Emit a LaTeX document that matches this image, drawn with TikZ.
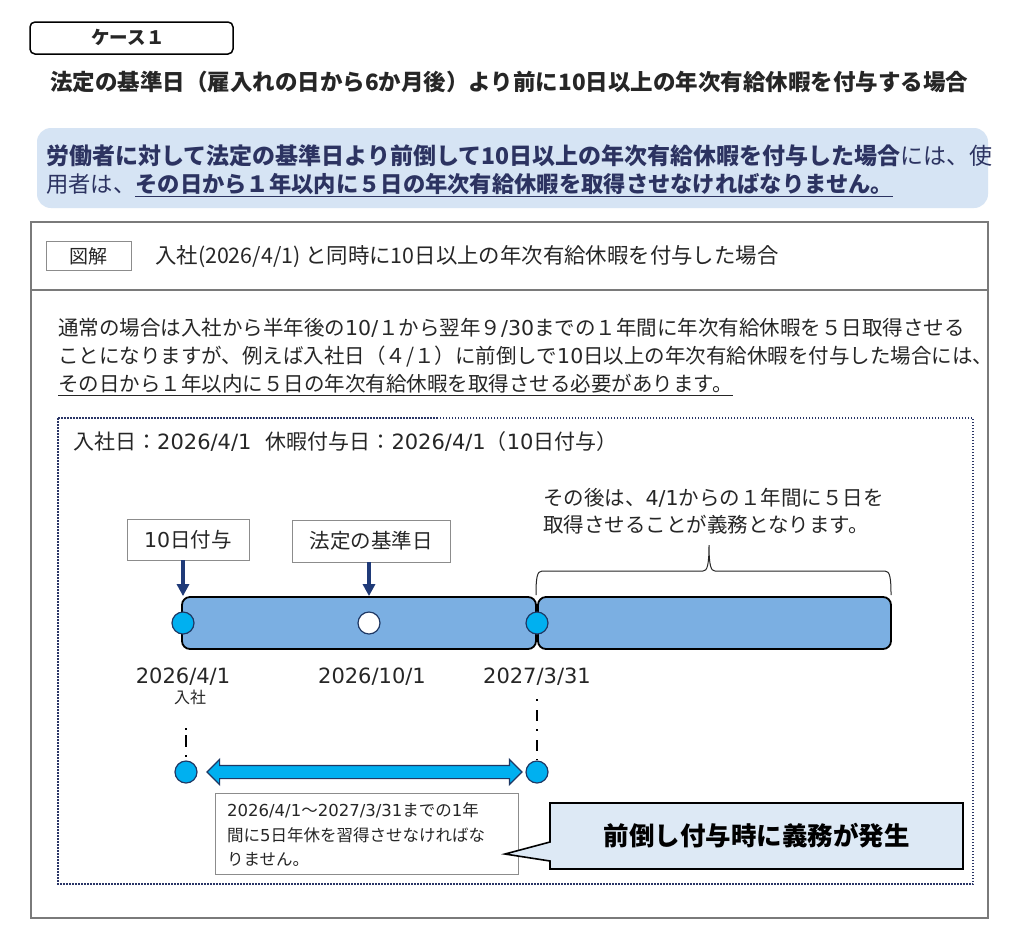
\documentclass[tikz,border=0pt]{standalone}
\usepackage{fontspec}
\setmainfont{Noto Sans CJK JP}
\newfontfamily\lat{DejaVu Sans}
\usetikzlibrary{shapes.arrows,arrows.meta}
\definecolor{navy}{HTML}{2C3361}
\definecolor{textgray}{HTML}{262626}
\definecolor{boxgray}{HTML}{8C8C8C}
\definecolor{framegray}{HTML}{7A7A7A}
\definecolor{lightblue}{HTML}{D6E4F4}
\definecolor{barblue}{HTML}{7BAFE2}
\definecolor{cyanfill}{HTML}{00B0F0}
\definecolor{circnavy}{HTML}{1F3864}
\definecolor{arrownavy}{HTML}{1F3A78}
\definecolor{dotnavy}{HTML}{2A3566}
\definecolor{calloutfill}{HTML}{DDE9F5}
\newcommand\fsz[1]{\fontsize{#1}{#1}\selectfont}
\newcommand\myul[2]{\setbox0\hbox{#2}\rlap{\textcolor{#1}{\rule[-5pt]{\wd0}{1.3pt}}}\box0}
\begin{document}
\begin{tikzpicture}[x=1pt,y=-1pt,
  txt/.style={inner sep=0pt, anchor=base west, text=textgray},
  lbl/.style={draw=boxgray, fill=white, line width=0.9pt, inner sep=0pt, text=textgray},
  bar/.style={draw=black, line width=1.8pt, fill=barblue, rounded corners=8pt, inner sep=0pt},
  dotc/.style={circle, draw=circnavy, line width=1.2pt, minimum size=22pt, inner sep=0pt},
  varrow/.style={-{Triangle[length=12pt,width=12pt]}, line width=3.2pt, draw=arrownavy},
  ddashA/.style={line width=2.5pt, draw=black, dash pattern=on 2pt off 5pt on 12pt off 8pt},
  ddashB/.style={line width=2.5pt, draw=black, dash pattern=on 2pt off 9pt on 11pt off 8pt},
]
\useasboundingbox (0,0) rectangle (1024,946);
\fill[white] (0,0) rectangle (1024,946);

% case label
\node[draw=black, line width=1.5pt, rounded corners=5pt, minimum width=203pt, minimum height=32pt, inner sep=0pt] (case) at (131.5,38) {};
\node[inner sep=0pt, anchor=base, text=textgray] (casetxt) at (128,44.5) {\fsz{18.5}\bfseries ケース１};

% title
\node[txt] (title) at (50,90.5) {\fsz{22.5}\bfseries 法定の基準日（雇入れの日から6か月後）より前に10日以上の年次有給休暇を付与する場合};

% blue summary box
\node[fill=lightblue, rounded corners=14pt, minimum width=951pt, minimum height=80pt, inner sep=0pt] (summary) at (512.5,168) {};
\node[txt, text=navy] (sum1) at (46,164) {\fsz{23}{\bfseries 労働者に対して法定の基準日より前倒して10日以上の年次有給休暇を付与した場合}には、使};
\node[txt, text=navy] (sum2) at (46,192) {\fsz{22.3}用者は、\myul{navy}{\bfseries その日から１年以内に５日の年次有給休暇を取得させなければなりません。}};

% outer frame
\draw[draw=framegray, line width=1.3pt] (31,222) rectangle (988,918);
\draw[draw=framegray, line width=1.3pt] (31,290) -- (988,290);
\node[lbl, minimum width=85pt, minimum height=29pt] (zukai) at (88.5,255.5) {};
\node[inner sep=0pt, anchor=base, text=textgray] (zukaitxt) at (88.5,263) {\fsz{19}図解};
\node[txt] (head) at (155,263.5) {\fsz{21.4}入社(2026/4/1) と同時に10日以上の年次有給休暇を付与した場合};

% paragraph
\node[txt] (p1) at (58,335) {\fsz{20.5}通常の場合は入社から半年後の{\lat 10/}１から翌年９{\lat /30}までの１年間に年次有給休暇を５日取得させる};
\node[txt] (p2) at (58,363) {\fsz{20.5}ことになりますが、例えば入社日（４/１）に前倒しで{\lat 10}日以上の年次有給休暇を付与した場合には、};
\node[txt] (p3) at (58,391) {\fsz{20.5}\myul{textgray}{その日から１年以内に５日の年次有給休暇を取得させる必要があります。}};

% dotted frame
\draw[draw=dotnavy, line width=1.6pt, dash pattern=on 1.5pt off 1.5pt] (58,418) rectangle (973,884);
\node[txt] (info) at (73,449) {\fsz{21}入社日：{\lat 2026/4/1}\hspace{14pt}休暇付与日：{\lat 2026/4/1}（{\lat 10}日付与）};

\node[txt] (after1) at (543,505) {\fsz{20.5}その後は、{\lat 4/1}からの１年間に５日を};
\node[txt] (after2) at (543,532) {\fsz{20.5}取得させることが義務となります。};

% brace
\coordinate (brL) at (536,595);
\coordinate (brR) at (891,595);
\coordinate (brT) at (709,545);
\draw[line width=1pt, draw=black!85] (brL) .. controls (536,578) and (537,571) .. (542,571) -- (703,571) .. controls (707,571) and (709,566) .. (brT)
  .. controls (709,566) and (711,571) .. (715,571) -- (885,571) .. controls (890,571) and (891,578) .. (brR);

% labels
\node[lbl, minimum width=122pt, minimum height=41pt] (give) at (188,539.5) {\fsz{20.5}{\lat 10}日付与};
\node[lbl, minimum width=158pt, minimum height=42pt] (kijun) at (371,541) {\fsz{20.5}法定の基準日};

% bars
\node[bar, minimum width=354pt, minimum height=52pt] (bar1) at (359,623) {};
\node[bar, minimum width=353pt, minimum height=52pt] (bar2) at (714.5,623) {};

% circles
\node[dotc, fill=cyanfill] (c1) at (183,623) {};
\node[dotc, fill=white] (c2) at (369,623) {};
\node[dotc, fill=cyanfill] (c3) at (537,623) {};

% vertical arrows
\draw[varrow] (give.south -| c1) -- (c1 |- bar1.north);
\draw[varrow] (kijun.south -| c2) -- (c2 |- bar1.north);

% dates
\node[inner sep=0pt, anchor=base, text=textgray] (d1) at (183,683) {\fsz{21}\lat 2026/4/1};
\node[inner sep=0pt, anchor=base, text=textgray] (d2) at (372,683) {\fsz{21}\lat 2026/10/1};
\node[inner sep=0pt, anchor=base, text=textgray] (d3) at (537,683) {\fsz{21}\lat 2027/3/31};
\node[inner sep=0pt, anchor=base, text=textgray] (d1b) at (190,703) {\fsz{16}入社};

% lower circles
\node[dotc, fill=cyanfill] (e1) at (186,772) {};
\node[dotc, fill=cyanfill] (e2) at (537,772) {};

% dash-dot lines
\coordinate (l1top) at (186,728);
\coordinate (l2top) at (537,699);
\draw[ddashA] (l1top) -- (e1.north);
\draw[ddashB] (l2top) -- (e2.north);

% double arrow
\node[double arrow, draw=circnavy, line width=1.2pt, fill=cyanfill, minimum height=315pt, minimum width=24pt, double arrow head extend=6pt, inner xsep=0pt, inner ysep=6pt, double arrow head indent=0pt] (span) at (364.5,772) {};

% note box
\node[lbl, minimum width=303pt, minimum height=81pt] (note) at (366.5,833.5) {};
\node[txt] (n1) at (227,816) {\fsz{16.5}{\lat 2026/4/1}～{\lat 2027/3/31}までの{\lat 1}年};
\node[txt] (n2) at (227,841) {\fsz{16.5}間に{\lat 5}日年休を習得させなければな};
\node[txt] (n3) at (227,865) {\fsz{16.5}りません。};

% callout
\coordinate (tip) at (505,854);
\draw[draw=black, line width=1.6pt, fill=calloutfill] (550,803) -- (963,803) -- (963,869) -- (550,869) -- (550,861) -- (tip) -- (550,842) -- cycle;
\node[inner sep=0pt, text=black] (callout) at (756.5,836) {\fsz{25.5}\bfseries 前倒し付与時に義務が発生};
\end{tikzpicture}
\end{document}
